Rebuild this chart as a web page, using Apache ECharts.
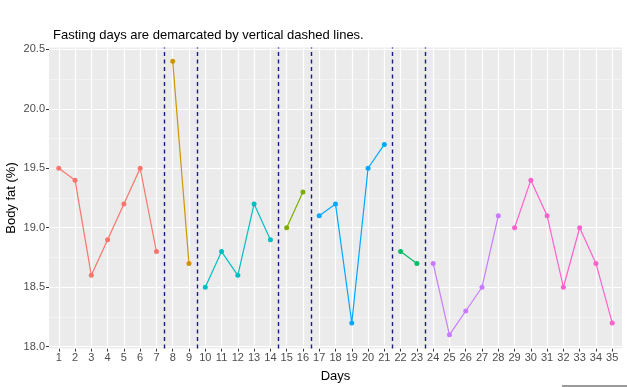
<!DOCTYPE html>
<html><head><meta charset="utf-8">
<script src="https://cdn.jsdelivr.net/npm/echarts@6/dist/echarts.min.js"></script>
<style>html,body{margin:0;padding:0;background:#fff}#c{width:627px;height:387px}</style>
</head><body><div id="c"></div>
<script>
const days = [1,2,3,4,5,6,7,8,9,10,11,12,13,14,15,16,17,18,19,20,21,22,23,24,25,26,27,28,29,30,31,32,33,34,35];
const bodyFat = [19.5,19.4,18.6,18.9,19.2,19.5,18.8, 20.4,18.7, 18.5,18.8,18.6,19.2,18.9, 19.0,19.3, 19.1,19.2,18.2,19.5,19.7, 18.8,18.7, 18.7,18.1,18.3,18.5,19.1, 19.0,19.4,19.1,18.5,19.0,18.7,18.2];
const groupStart = [1,8,10,15,17,22,24,29];
const groupEnd   = [7,9,14,16,21,23,28,35];
const groupColors = ['#F8766D','#CD9600','#00BFC4','#7CAE00','#00A9FF','#00BE67','#C77CFF','#FF61CC'];
const fastingLines = [7.5,9.5,14.5,16.5,21.5,23.5];
const yMajorTicks = [18.0,18.5,19.0,19.5,20.0,20.5];
const yMinorTicks = [18.25,18.75,19.25,19.75,20.25];

const font = 'Liberation Sans, Arial, sans-serif';
const series = [];
// panel grid lines
series.push({
  type: 'line', data: [], silent: true, z: 1, zlevel: 0,
  markLine: {
    symbol: 'none', silent: true, label: {show: false}, animation: false,
    data: [
      ...yMinorTicks.map(v => ({yAxis: v, lineStyle: {color: '#F7F7F7', width: 0.7, type: 'solid'}})),
      ...yMajorTicks.map(v => ({yAxis: v, lineStyle: {color: '#FFFFFF', width: 1.2, type: 'solid'}})),
      ...days.map(v => ({xAxis: v, lineStyle: {color: '#FFFFFF', width: 1.2, type: 'solid'}}))
    ]
  }
});
series.push({
  type: 'line', data: [], silent: true, z: 2, zlevel: 1,
  markLine: {
    symbol: 'none', silent: true, label: {show: false},
    lineStyle: {color: '#1b1b80', width: 1.4, type: [4, 3.5]},
    data: fastingLines.map(v => ({xAxis: v}))
  }
});
groupStart.forEach((s, g) => {
  const data = [];
  days.forEach((d, i) => { if (d >= s && d <= groupEnd[g]) data.push([d, bodyFat[i]]); });
  series.push({
    type: 'line', data, symbol: 'circle', symbolSize: 5,
    itemStyle: {color: groupColors[g]}, lineStyle: {color: groupColors[g], width: 1.2},
    silent: true, z: 3, zlevel: 2
  });
});

const chart = echarts.init(document.getElementById('c'), null, {renderer: 'canvas'});
chart.setOption({
  animation: false,
  backgroundColor: '#fff',
  title: {text: 'Fasting days are demarcated by vertical dashed lines.', left: 48, top: 24,
    textStyle: {fontFamily: font, fontSize: 13, fontWeight: 'normal', color: '#000'}},
  grid: {left: 49, right: 5, top: 47.5, bottom: 38.5, show: true, backgroundColor: '#EBEBEB', borderWidth: 0,
    containLabel: false, outerBoundsMode: 'none'},
  xAxis: {
    type: 'value', min: 0.4, max: 35.6,
    name: 'Days', nameLocation: 'middle', nameGap: 21, nameMoveOverlap: false,
    nameTextStyle: {fontFamily: font, fontSize: 13, color: '#000'},
    axisLine: {show: false},
    axisTick: {show: true, length: 3, customValues: days, lineStyle: {color: '#333', width: 1}},
    axisLabel: {customValues: days, margin: 4, fontFamily: font, fontSize: 11, color: '#4D4D4D'},
    splitLine: {show: false}
  },
  yAxis: {
    type: 'value', min: 17.985, max: 20.515,
    name: 'Body fat (%)', nameLocation: 'middle', nameGap: 31, nameRotate: 90, nameMoveOverlap: false,
    nameTextStyle: {fontFamily: font, fontSize: 13, color: '#000'},
    axisLine: {show: false},
    axisTick: {show: true, length: 3, customValues: yMajorTicks, lineStyle: {color: '#333', width: 1}},
    axisLabel: {customValues: yMajorTicks, margin: 4, fontFamily: font, fontSize: 11, color: '#4D4D4D',
      formatter: v => Number(v).toFixed(1)},
    splitLine: {show: false}
  },
  series,
  graphic: [{type: 'rect', shape: {x: 562, y: 385, width: 65, height: 2}, style: {fill: '#9a9a9a'}, silent: true}]
});
</script></body></html>
